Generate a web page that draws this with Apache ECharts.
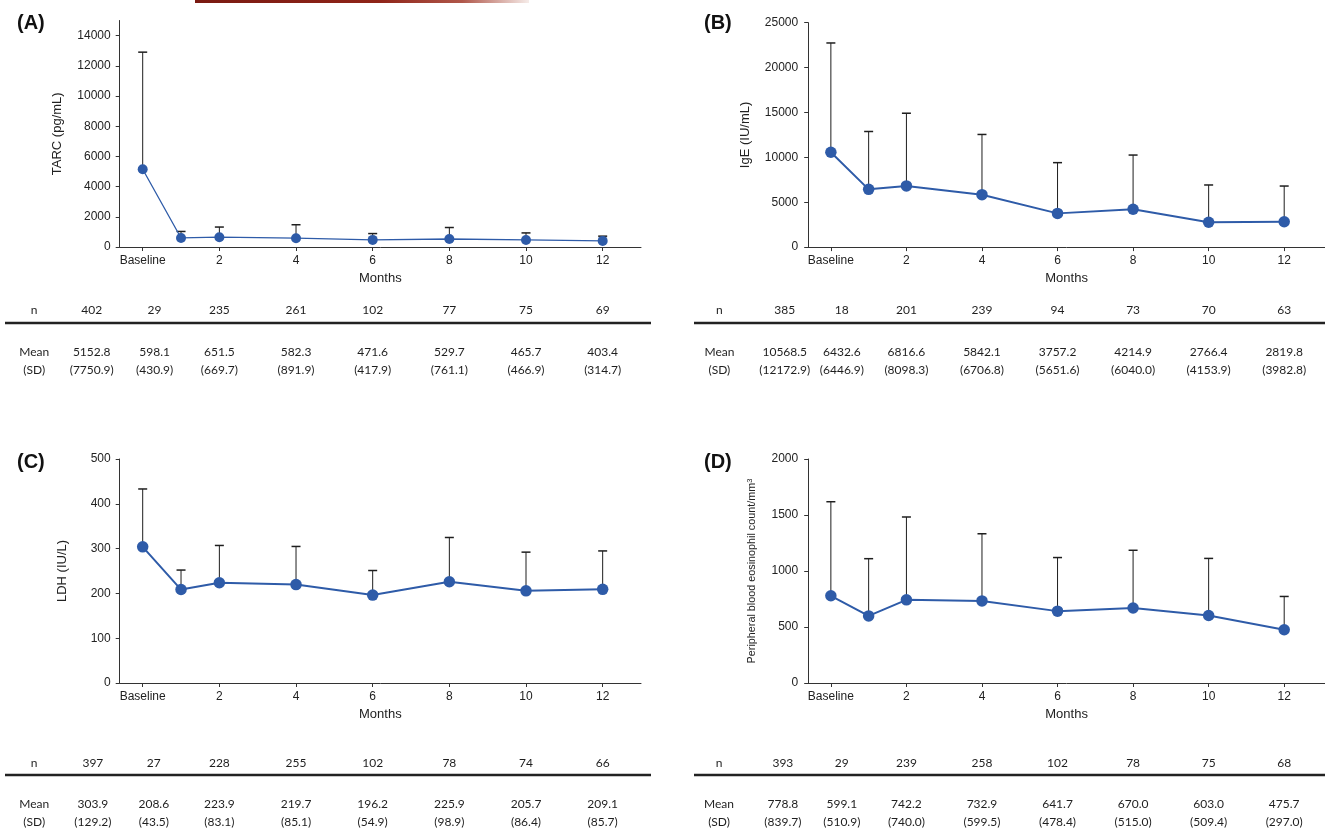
<!DOCTYPE html>
<html><head><meta charset="utf-8">
<script src="https://cdn.jsdelivr.net/npm/echarts@6/dist/echarts.min.js"></script>
<style>html,body{margin:0;padding:0;background:#fff}#c{width:1325px;height:828px}</style>
</head><body><div id="c"></div>
<script>
// ---------- data ----------
const months = [0, 1, 2, 4, 6, 8, 10, 12];
const xTickValues = [0, 2, 4, 6, 8, 10, 12];
const baselineLabel = 'Baseline';
const xAxisTitle = 'Months';
const rowLabels = ['n', 'Mean', '(SD)'];

const tarcN = [402, 29, 235, 261, 102, 77, 75, 69];
const tarcMean = [5152.8, 598.1, 651.5, 582.3, 471.6, 529.7, 465.7, 403.4];
const tarcSD = [7750.9, 430.9, 669.7, 891.9, 417.9, 761.1, 466.9, 314.7];
const tarcTicks = [0, 2000, 4000, 6000, 8000, 10000, 12000, 14000];

const igeN = [385, 18, 201, 239, 94, 73, 70, 63];
const igeMean = [10568.5, 6432.6, 6816.6, 5842.1, 3757.2, 4214.9, 2766.4, 2819.8];
const igeSD = [12172.9, 6446.9, 8098.3, 6706.8, 5651.6, 6040.0, 4153.9, 3982.8];
const igeTicks = [0, 5000, 10000, 15000, 20000, 25000];

const ldhN = [397, 27, 228, 255, 102, 78, 74, 66];
const ldhMean = [303.9, 208.6, 223.9, 219.7, 196.2, 225.9, 205.7, 209.1];
const ldhSD = [129.2, 43.5, 83.1, 85.1, 54.9, 98.9, 86.4, 85.7];
const ldhTicks = [0, 100, 200, 300, 400, 500];

const eosN = [393, 29, 239, 258, 102, 78, 75, 68];
const eosMean = [778.8, 599.1, 742.2, 732.9, 641.7, 670.0, 603.0, 475.7];
const eosSD = [839.7, 510.9, 740.0, 599.5, 478.4, 515.0, 509.4, 297.0];
const eosTicks = [0, 500, 1000, 1500, 2000];

// ---------- layout / style ----------
const NARROW = '"Liberation Sans Narrow","Arial Narrow","Liberation Sans",Arial,sans-serif';
const SANS = '"Liberation Sans",Arial,Helvetica,sans-serif';
const TABLEFONT = 'Lato,"Open Sans",sans-serif';
const BLUE = '#2E5BA8';
const INK = '#1e1e1e';

const panels = [
  { tag: '(A)', tagPos: [17, 23], title: 'TARC (pg/mL)', n: tarcN, mean: tarcMean, sd: tarcSD, ticks: tarcTicks, yMax: 15000,
    grid: { left: 119.7, top: 20.5, width: 521.3, height: 226.5 }, xMax: 13, nameGap: 56, nameSize: 13,
    sym: 10, lw: 1.3, ylMargin: 9, cols: [-2.83, -1.33, 0.31], rowY: [310, 352, 370], rule: [5, 651, 323] },
  { tag: '(B)', tagPos: [704, 23], title: 'IgE (IU/mL)', n: igeN, mean: igeMean, sd: igeSD, ticks: igeTicks, yMax: 25000,
    grid: { left: 808.2, top: 22.7, width: 516.8, height: 224.4 }, xMax: 13.08, nameGap: 56, nameSize: 13,
    sym: 11.5, lw: 2, ylMargin: 10, cols: [-2.95, -1.22, 0.29], rowY: [310, 352, 370], rule: [694, 1325, 323] },
  { tag: '(C)', tagPos: [17, 462], title: 'LDH (IU/L)', n: ldhN, mean: ldhMean, sd: ldhSD, ticks: ldhTicks, yMax: 500,
    grid: { left: 119.7, top: 459, width: 521.3, height: 224 }, xMax: 13, nameGap: 51, nameSize: 13,
    sym: 11.5, lw: 2, ylMargin: 9, cols: [-2.83, -1.3, 0.29], rowY: [763, 804, 822], rule: [5, 651, 775] },
  { tag: '(D)', tagPos: [704, 462], title: 'Peripheral blood eosinophil count/mm{sup|3}', n: eosN, mean: eosMean, sd: eosSD, ticks: eosTicks, yMax: 2000,
    grid: { left: 808.2, top: 459, width: 516.8, height: 224 }, xMax: 13.08, nameGap: 51, nameSize: 10.8,
    sym: 11.5, lw: 2, ylMargin: 10, cols: [-2.96, -1.27, 0.29], rowY: [763, 804, 822], rule: [694, 1325, 775] }
];

const grids = [], xAxes = [], yAxes = [], series = [], graphics = [];

panels.forEach((p, i) => {
  grids.push(Object.assign({ containLabel: false }, p.grid));
  xAxes.push({
    type: 'value', gridIndex: i, min: -0.6, max: p.xMax,
    name: xAxisTitle, nameLocation: 'middle', nameGap: 25, nameMoveOverlap: false,
    nameTextStyle: { fontFamily: NARROW, fontSize: 13, color: '#222' },
    axisLine: { show: true, onZero: false, lineStyle: { color: '#333', width: 1 } },
    axisTick: { show: true, length: 4, customValues: xTickValues, lineStyle: { color: '#333' } },
    axisLabel: { customValues: xTickValues, formatter: v => (v === 0 ? baselineLabel : String(v)),
      margin: 8, fontFamily: NARROW, fontSize: 12, color: '#222' },
    splitLine: { show: false }
  });
  yAxes.push({
    type: 'value', gridIndex: i, min: 0, max: p.yMax,
    name: p.title, nameLocation: 'middle', nameGap: p.nameGap, nameMoveOverlap: false,
    nameTextStyle: { fontFamily: SANS, fontSize: p.nameSize, color: '#222',
      rich: { sup: { fontFamily: SANS, fontSize: 7.5, color: '#222', verticalAlign: 'top' } } },
    axisLine: { show: true, onZero: false, lineStyle: { color: '#333', width: 1 } },
    axisTick: { show: true, length: 4, customValues: p.ticks, lineStyle: { color: '#333' } },
    axisLabel: { customValues: p.ticks, formatter: v => String(v), margin: p.ylMargin,
      fontFamily: NARROW, fontSize: 12, color: '#222' },
    splitLine: { show: false }
  });
  // error bars (mean + SD)
  series.push({
    type: 'custom', xAxisIndex: i, yAxisIndex: i, clip: false, silent: true, z: 2,
    data: months.map((m, k) => [m, p.mean[k], p.mean[k] + p.sd[k]]),
    renderItem: (params, api) => {
      const lo = api.coord([api.value(0), api.value(1)]);
      const hi = api.coord([api.value(0), api.value(2)]);
      const cw = 4.5;
      return { type: 'group', children: [
        { type: 'line', shape: { x1: lo[0], y1: lo[1], x2: hi[0], y2: hi[1] }, style: { stroke: INK, lineWidth: 1 } },
        { type: 'line', shape: { x1: hi[0] - cw, y1: hi[1], x2: hi[0] + cw, y2: hi[1] }, style: { stroke: INK, lineWidth: 1.5 } }
      ] };
    }
  });
  // mean line
  series.push({
    type: 'line', xAxisIndex: i, yAxisIndex: i, z: 3, silent: true,
    data: months.map((m, k) => [m, p.mean[k]]),
    symbol: 'circle', symbolSize: p.sym, showSymbol: true,
    itemStyle: { color: BLUE, borderWidth: 0 },
    lineStyle: { color: BLUE, width: p.lw }
  });
  // table below each panel: label column + 8 data columns
  const tableTexts = [rowLabels].concat(months.map((m, k) => [
    String(p.n[k]), p.mean[k].toFixed(1), '(' + p.sd[k].toFixed(1) + ')'
  ]));
  const colPos = [p.cols[0], p.cols[1], p.cols[2]].concat(months.slice(2));
  series.push({
    type: 'custom', xAxisIndex: i, yAxisIndex: i, clip: false, silent: true, z: 2,
    data: colPos.map(c => [c, 0]),
    renderItem: (params, api) => {
      const x = api.coord([api.value(0), 0])[0];
      const t = tableTexts[params.dataIndex];
      return { type: 'group', children: t.map((s, r) => ({
        type: 'text', x: x, y: p.rowY[r],
        style: { text: s, fill: '#1e1e1e', fontFamily: TABLEFONT, fontSize: 12,
          textAlign: 'center', textVerticalAlign: 'middle' }
      })) };
    }
  });
  graphics.push({ type: 'line', silent: true, shape: { x1: p.rule[0], y1: p.rule[2], x2: p.rule[1], y2: p.rule[2] },
    style: { stroke: '#222', lineWidth: 2.5 } });
  graphics.push({ type: 'text', silent: true, x: p.tagPos[0], y: p.tagPos[1],
    style: { text: p.tag, fontFamily: SANS, fontWeight: 'bold', fontSize: 20, fill: '#111',
      textAlign: 'left', textVerticalAlign: 'middle' } });
});

// decorative red strip at top edge of the figure
graphics.push({ type: 'rect', silent: true, shape: { x: 195, y: 0, width: 334, height: 3 },
  style: { fill: new echarts.graphic.LinearGradient(0, 0, 1, 0, [
    { offset: 0, color: '#7a1a12' }, { offset: 0.55, color: '#8f2418' },
    { offset: 0.8, color: '#b0574a' }, { offset: 1, color: '#f6ece9' }]) } });

const chart = echarts.init(document.getElementById('c'), null, { renderer: 'canvas' });
chart.setOption({
  animation: false,
  backgroundColor: '#fff',
  grid: grids, xAxis: xAxes, yAxis: yAxes, series: series, graphic: graphics
});
</script></body></html>
